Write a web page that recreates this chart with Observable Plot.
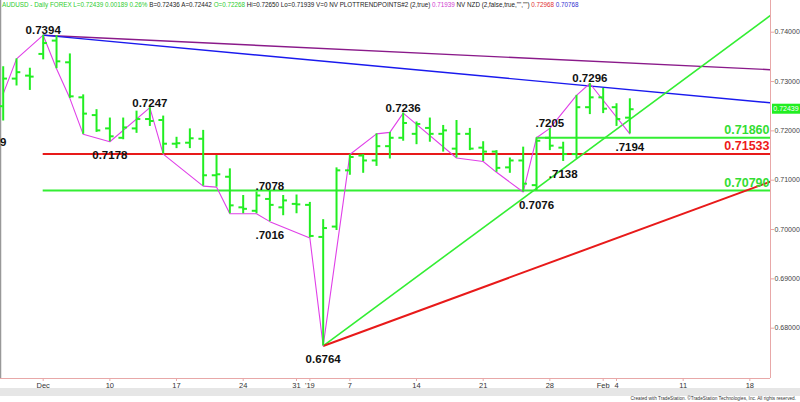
<!DOCTYPE html>
<html><head><meta charset="utf-8">
<script src="https://cdn.jsdelivr.net/npm/d3@7"></script>
<script src="https://cdn.jsdelivr.net/npm/@observablehq/plot@0.6"></script>
<style>
body{margin:0;background:#fff;font-family:"Liberation Sans",Arial,sans-serif;}
#wrap{position:relative;width:800px;height:402px;overflow:hidden;background:#fff;}
#hdr{position:absolute;left:2px;top:1px;font-size:6.3px;line-height:8px;white-space:nowrap;color:#222;}
#band{position:absolute;left:0;top:388px;width:800px;height:8px;background:#e6e6e6;}
#cap{position:absolute;right:4px;top:396px;font-size:4.7px;line-height:6px;color:#333;white-space:nowrap;}
</style></head><body>
<div id="wrap"><div id="chart"></div>
<div id="hdr"><span style="color:#2ecc2e">AUDUSD - Daily FOREX L=0.72439 0.00189 0.26%</span> B=0.72436 A=0.72442 <span style="color:#2ecc2e">O=0.72268</span> Hi=0.72650 Lo=0.71939 V=0 NV PLOTTRENDPOINTS#2 (2,true) <span style="color:#d040d0">0.71939</span> NV NZD (2,false,true,"","") <span style="color:#e03030">0.72968</span> <span style="color:#3030d0">0.70768</span></div>
<div id="band"></div>
<div id="cap">Created with TradeStation. ©TradeStation Technologies, Inc. All rights reserved.</div>
</div>
<script>
// Trading-day calendar (x positions are ordinal trading days)
const days = [
"2018-11-28","2018-11-29","2018-11-30",
"2018-12-03","2018-12-04","2018-12-05","2018-12-06","2018-12-07",
"2018-12-10","2018-12-11","2018-12-12","2018-12-13","2018-12-14",
"2018-12-17","2018-12-18","2018-12-19","2018-12-20","2018-12-21",
"2018-12-24","2018-12-26","2018-12-27","2018-12-28","2018-12-31",
"2019-01-02","2019-01-03","2019-01-04",
"2019-01-07","2019-01-08","2019-01-09","2019-01-10","2019-01-11",
"2019-01-14","2019-01-15","2019-01-16","2019-01-17","2019-01-18",
"2019-01-21","2019-01-22","2019-01-23","2019-01-24","2019-01-25",
"2019-01-28","2019-01-29","2019-01-30","2019-01-31","2019-02-01",
"2019-02-04","2019-02-05","2019-02-06","2019-02-07","2019-02-08",
"2019-02-11","2019-02-12","2019-02-13","2019-02-14","2019-02-15",
"2019-02-18","2019-02-19","2019-02-20"];

// OHLC (one per trading day from 2018-11-28 to 2019-02-05)
const open  = [0.7250,0.7306,0.7312,0.7356,0.7383,0.7339,0.7268,0.7232,0.7205,0.7186,0.7205,0.7224,0.7222,0.7174,0.7176,0.7184,0.7110,0.7107,0.7045,0.7038,0.7062,0.7045,0.7052,0.7050,0.6985,0.7006,0.7120,0.7150,0.7140,0.7169,0.7186,0.7194,0.7206,0.7194,0.7164,0.7194,0.7166,0.7158,0.7126,0.7140,0.7090,0.7186,0.7166,0.7153,0.7248,0.7268,0.7248,0.72268];
const high  = [0.7330,0.7346,0.7327,0.7394,0.7393,0.7356,0.7273,0.7243,0.7226,0.7226,0.7240,0.7247,0.7230,0.7187,0.7204,0.7201,0.7150,0.7123,0.7069,0.7076,0.7078,0.7069,0.7070,0.7055,0.7020,0.7125,0.7152,0.7152,0.7194,0.7197,0.7236,0.7218,0.7226,0.7211,0.7221,0.7205,0.7178,0.7160,0.7145,0.7167,0.7186,0.7205,0.7177,0.7272,0.7296,0.7286,0.7255,0.72650];
const low   = [0.7220,0.7291,0.7282,0.7344,0.7326,0.7266,0.7193,0.7197,0.7178,0.7182,0.7195,0.7209,0.7153,0.7164,0.7164,0.7088,0.7086,0.7032,0.7032,0.7032,0.7016,0.7028,0.7032,0.6983,0.6764,0.6998,0.7110,0.7114,0.7128,0.7143,0.7179,0.7172,0.7177,0.7157,0.7145,0.7160,0.7138,0.7116,0.7114,0.7076,0.7079,0.7160,0.7138,0.7143,0.7233,0.7235,0.7209,0.71939];
const close = [0.7306,0.7319,0.7310,0.7378,0.7341,0.7270,0.7235,0.7201,0.7189,0.7207,0.7224,0.7220,0.7174,0.7175,0.7185,0.7110,0.7112,0.7049,0.7042,0.7069,0.7050,0.7059,0.7051,0.6987,0.7003,0.7120,0.7147,0.7140,0.7169,0.7186,0.7216,0.7214,0.7194,0.7201,0.7194,0.7164,0.7158,0.7125,0.7140,0.7093,0.7180,0.7170,0.7153,0.7248,0.7268,0.7245,0.7224,0.72439];

// Swing (trend points) line
const swingDates = ["2018-11-28","2018-11-29","2018-12-03","2018-12-04","2018-12-05","2018-12-06","2018-12-10","2018-12-13","2018-12-14","2018-12-19","2018-12-20","2018-12-21","2018-12-26","2018-12-27","2019-01-02","2019-01-03","2019-01-07","2019-01-09","2019-01-10","2019-01-11","2019-01-17","2019-01-21","2019-01-22","2019-01-24","2019-01-25","2019-01-28","2019-01-30","2019-01-31","2019-02-05"];
const swingPrices = [0.7275,0.7346,0.7394,0.7326,0.7266,0.7193,0.7178,0.7247,0.7153,0.7088,0.7086,0.7032,0.7032,0.7016,0.6983,0.6764,0.7152,0.7194,0.7197,0.7236,0.7145,0.7138,0.7116,0.7076,0.7186,0.7205,0.7272,0.7296,0.7194];

// Swing labels
const labelDates  = ["2018-11-28","2018-12-03","2018-12-10","2018-12-13","2018-12-27","2018-12-27","2019-01-03","2019-01-11","2019-01-25","2019-01-28","2019-01-29","2019-01-31","2019-02-05"];
const labelPrices = [0.7203,0.7394,0.7178,0.7247,0.7078,0.7016,0.6764,0.7236,0.7076,0.7205,0.7138,0.7296,0.7194];
const labelTexts  = ["9","0.7394","0.7178","0.7247",".7078",".7016","0.6764","0.7236","0.7076",".7205",".7138","0.7296",".7194"];
const labelSides  = ["low","high","low","high","high","low","low","high","low","high","low","high","low"];

// Trend lines (start date, start price, end date, end price)
const trendNames  = ["purple","blue","green","red"];
const trendStart  = ["2018-12-03","2018-12-03","2019-01-03","2019-01-03"];
const trendP1     = [0.7394,0.7394,0.6764,0.6764];
const trendEnd    = ["2019-02-20","2019-02-20","2019-02-20","2019-02-20"];
const trendP2     = [0.73234,0.72558,0.7443,0.71016];

// Horizontal levels
const levelNames  = ["support2","pivot","support1"];
const levelStart  = ["2018-12-03","2018-12-03","2019-01-25"];
const levelPrices = [0.70790,0.71533,0.71860];

// Axis ticks
const xTickDates  = ["2018-12-03","2018-12-10","2018-12-17","2018-12-24","2018-12-31","2019-01-02","2019-01-07","2019-01-14","2019-01-21","2019-01-28","2019-02-01","2019-02-04","2019-02-11","2019-02-18"];
const xTickLabels = ["Dec","10","17","24","31","'19","7","14","21","28","Feb","4","11","18"];
const yTicks = [0.68,0.69,0.70,0.71,0.72,0.73,0.74];

// ---- build ----
const idx = d => days.indexOf(d);
const bars = open.map((o,i)=>({i, o, h:high[i], l:low[i], c:close[i]}));
const swing = swingDates.map((d,k)=>({i:idx(d), p:swingPrices[k]}));
const labels = labelDates.map((d,k)=>({i:idx(d), p:labelPrices[k], t:labelTexts[k], s:labelSides[k]}));
const trendColors = {purple:"#8a1a8a", blue:"#1a1aee", green:"#33ee33", red:"#e81a1a"};
const trends = trendNames.map((n,k)=>({n, x1:idx(trendStart[k]), y1:trendP1[k], x2:idx(trendEnd[k]), y2:trendP2[k]}));
const levelColors = {support2:"#33ee33", pivot:"#e81a1a", support1:"#33ee33"};
const levelText = {support2:"#33dd33", pivot:"#ee1a1a", support1:"#33dd33"};
const levels = levelNames.map((n,k)=>({n, x1:idx(levelStart[k]), p:levelPrices[k]}));
const xTicks = xTickDates.map(idx);

const xDomain = [-0.2025, 57.55];
const yDomain = [0.66980, 0.74643];
const pink = "#e8a8a8";
const barGreen = "#22ee22";
const font = "Liberation Sans, Arial, sans-serif";

const chart = Plot.plot({
  width: 800, height: 402,
  marginLeft: 0, marginRight: 30, marginTop: 0, marginBottom: 24,
  style: {fontFamily: font, background: "transparent", overflow: "visible"},
  x: {type: "linear", domain: xDomain},
  y: {domain: yDomain},
  marks: [
    Plot.ruleX([xDomain[0]], {stroke: "#999", strokeWidth: 1.5}),
    Plot.ruleX([xDomain[1]], {stroke: pink}),
    Plot.ruleY([yDomain[0]], {stroke: pink}),
    Plot.axisX({ticks: xTicks, tickFormat: v => xTickLabels[xTicks.indexOf(v)], tickSize: 3, tickPadding: 1, fontSize: 7.5, stroke: pink, fill: "#333"}),
    Plot.axisY({anchor: "right", ticks: yTicks, tickFormat: v => v.toFixed(5), tickSize: 3, tickPadding: 1, fontSize: 7, stroke: pink, fill: "#444"}),
    // levels
    Plot.ruleY(levels, {y: "p", x1: "x1", x2: () => xDomain[1], stroke: d => levelColors[d.n], strokeWidth: 2}),
    // trend lines
    Plot.link(trends, {x1: "x1", y1: "y1", x2: "x2", y2: "y2", stroke: d => trendColors[d.n], strokeWidth: d => d.n === "blue" || d.n === "purple" ? 1.4 : (d.n === "red" ? 2 : 1.6), clip: true}),
    // swing line
    Plot.line(swing, {x: "i", y: "p", stroke: "#e040e8", strokeWidth: 1.1}),
    // OHLC bars
    Plot.ruleX(bars, {x: "i", y1: "l", y2: "h", stroke: barGreen, strokeWidth: 2}),
    Plot.ruleY(bars, {y: "o", x1: d => d.i - 0.32, x2: "i", stroke: barGreen, strokeWidth: 2}),
    Plot.ruleY(bars, {y: "c", x1: "i", x2: d => d.i + 0.32, stroke: barGreen, strokeWidth: 2}),
    // swing labels
    Plot.text(labels, {x: "i", y: "p", text: "t", fill: "#111", fontWeight: "bold", fontSize: 11.5}),
    // level labels
    Plot.text(levels, {y: "p", text: d => d.p.toFixed(5), frameAnchor: "right", textAnchor: "end", dx: -1, dy: -8, fill: d => levelText[d.n], fontWeight: "bold", fontSize: 12.5})
  ]
});
document.getElementById("chart").appendChild(chart);

// position swing labels above highs / below lows
const svg = d3.select(chart);
const textGroups = svg.selectAll("g[aria-label='text']");
d3.select(textGroups.nodes()[0]).selectAll("text").each(function(_, k){
  d3.select(this).attr("dy", labels[k].s === "high" ? "-0.42em" : "1.15em");
});

// last price tag in the right margin
const yS = chart.scale("y");
const yLast = yS.apply(close[close.length-1]);
const g = svg.append("g");
g.append("rect").attr("x", 772).attr("y", yLast - 5).attr("width", 28).attr("height", 10).attr("fill", "#22ee22");
g.append("text").attr("x", 786).attr("y", yLast + 2.5).attr("text-anchor", "middle").attr("fill", "#fff")
  .attr("font-size", 7).attr("font-family", font).text(close[close.length-1].toFixed(5));
</script>
</body></html>
